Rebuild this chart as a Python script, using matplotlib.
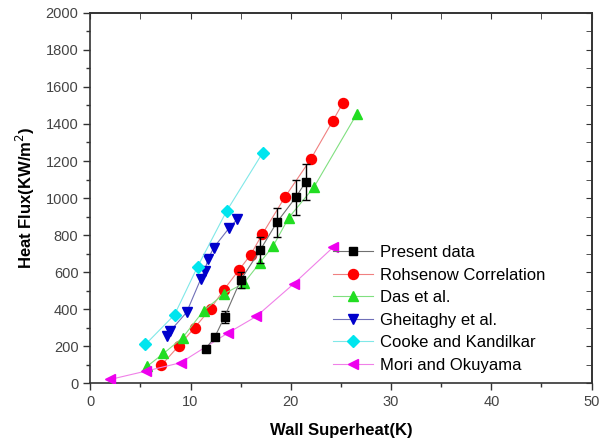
import matplotlib
matplotlib.use("Agg")
import matplotlib.pyplot as plt
from matplotlib.ticker import MultipleLocator
from matplotlib.lines import Line2D

plt.rcParams['font.family'] = ['Liberation Sans', 'DejaVu Sans']

# Present data
present_x = [11.5, 12.4, 13.4, 15.0, 16.95, 18.6, 20.5, 21.5]
present_y = [186, 247, 359, 557, 719, 868, 1004, 1088]
present_err = [0, 12, 32, 45, 68, 78, 94, 97]

# Rohsenow Correlation
rohs_x = [7.1, 8.8, 10.4, 12.0, 13.3, 14.8, 16.0, 17.15, 19.4, 22.0, 24.2, 25.2]
rohs_y = [97, 200, 299, 402, 503, 609, 694, 804, 1004, 1211, 1418, 1514]

# Das et al.
das_x = [5.7, 7.3, 9.2, 11.3, 13.3, 15.3, 16.9, 18.25, 19.8, 22.3, 26.6]
das_y = [92, 160, 245, 391, 481, 539, 649, 742, 894, 1058, 1456]

# Gheitaghy et al.
ghei_x = [7.7, 8.0, 9.6, 11.0, 11.4, 11.75, 12.3, 13.85, 14.65]
ghei_y = [254, 283, 382, 560, 607, 670, 731, 838, 885]

# Cooke and Kandilkar
cooke_x = [5.5, 8.4, 10.7, 13.6, 17.2]
cooke_y = [209, 369, 629, 930, 1245]

# Mori and Okuyama
mori_x = [2.0, 5.55, 9.0, 13.7, 16.55, 20.3, 24.2]
mori_y = [20, 65, 110, 270, 360, 537, 733]

labels = ['Present data', 'Rohsenow Correlation', 'Das et al.',
          'Gheitaghy et al.', 'Cooke and Kandilkar', 'Mori and Okuyama']

fig = plt.figure(figsize=(6.08, 4.46), dpi=100)
ax = fig.add_axes([0.1485, 0.141, 0.8245, 0.830])

lw = 0.8
styles = [
    dict(color='#707070', marker='s', ms=6.0, mfc='black', mec='black'),
    dict(color='#f08080', marker='o', ms=7.2, mfc='#ff0000', mec='#ff0000'),
    dict(color='#80e080', marker='^', ms=7.5, mfc='#22dd22', mec='#22dd22'),
    dict(color='#7070b8', marker='v', ms=7.5, mfc='#0000cc', mec='#0000cc'),
    dict(color='#80e8e8', marker='D', ms=6.2, mfc='#00e5ee', mec='#00e5ee'),
    dict(color='#f080e8', marker='<', ms=7.5, mfc='#ee00ee', mec='#ee00ee'),
]

ax.plot(rohs_x, rohs_y, lw=lw, zorder=3, **styles[1])
ax.plot(das_x, das_y, lw=lw, zorder=3, **styles[2])
ax.plot(ghei_x, ghei_y, lw=lw, zorder=3, **styles[3])
ax.plot(cooke_x, cooke_y, lw=lw, zorder=3, **styles[4])
ax.plot(mori_x, mori_y, lw=lw, zorder=3, **styles[5])
ax.errorbar(present_x, present_y, yerr=present_err, lw=lw, ecolor='black',
            elinewidth=1.0, capsize=3, capthick=1.0, zorder=4, **styles[0])

ax.set_xlim(0, 50)
ax.set_ylim(0, 2000)
ax.xaxis.set_major_locator(MultipleLocator(10))
ax.xaxis.set_minor_locator(MultipleLocator(5))
ax.yaxis.set_major_locator(MultipleLocator(200))
ax.yaxis.set_minor_locator(MultipleLocator(100))
ax.tick_params(which='major', direction='out', length=5, width=1, labelsize=10.5,
               colors='#333333', labelcolor='#444444')
ax.tick_params(which='minor', direction='out', length=3, width=1, colors='#333333')
for s in ax.spines.values():
    s.set_linewidth(1.2)
    s.set_color('#333333')

top = ax.secondary_xaxis('top')
top.xaxis.set_major_locator(MultipleLocator(10))
top.xaxis.set_minor_locator(MultipleLocator(5))
top.tick_params(which='both', direction='in', labeltop=False, length=4, colors='#333333')
top.spines['top'].set_linewidth(1.2)
top.spines['top'].set_color('#333333')
right = ax.secondary_yaxis('right')
right.yaxis.set_major_locator(MultipleLocator(200))
right.yaxis.set_minor_locator(MultipleLocator(100))
right.tick_params(which='both', direction='in', labelright=False, length=4, colors='#333333')
right.spines['right'].set_linewidth(1.2)
right.spines['right'].set_color('#333333')

ax.set_xlabel('Wall Superheat(K)', fontsize=12, fontweight='bold', labelpad=10)
ax.set_ylabel('Heat Flux(KW/m$^2$)', fontsize=12, fontweight='bold', labelpad=6)

handles = [Line2D([], [], lw=lw, **st) for st in styles]
ax.legend(handles, labels, loc='upper left', bbox_to_anchor=(0.484, 0.373),
          frameon=False, fontsize=12, handlelength=2.4, labelspacing=0.45,
          borderaxespad=0.0, borderpad=0.0, handletextpad=0.4)

fig.savefig('out.png', dpi=100)
